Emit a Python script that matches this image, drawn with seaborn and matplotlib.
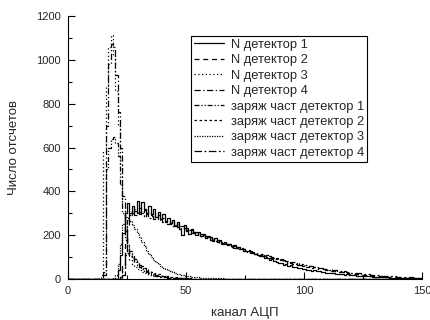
import numpy as np
import pandas as pd
import matplotlib
matplotlib.use("Agg")
import matplotlib.pyplot as plt
from matplotlib.ticker import MultipleLocator
import seaborn as sns

# ADC channels 0..149, one bin per channel
N_CHANNELS = 150

labels = [
    "N детектор 1", "N детектор 2", "N детектор 3", "N детектор 4",
    "заряж част детектор 1", "заряж част детектор 2",
    "заряж част детектор 3", "заряж част детектор 4",
]

# (first non-zero channel, counts from there on)
n_det1 = (21, [40, 110, 210, 300, 345, 300, 335, 310, 355, 305, 350, 320, 300, 335, 295, 320, 285, 305, 275, 295,
               265, 280, 255, 270, 240, 260, 230, 200, 245, 225, 205, 230, 210, 200, 215, 195, 205, 185, 198, 190,
               175, 185, 170, 178, 165, 170, 158, 162, 150, 155, 142, 148, 135, 138, 128, 130, 120, 122, 112, 110,
               104, 106, 96, 98, 88, 90, 82, 80, 74, 72, 66, 68, 60, 62, 55, 56, 50, 52, 46, 45,
               42, 43, 38, 39, 35, 36, 32, 33, 29, 28, 27, 26, 24, 25, 22, 23, 20, 21, 18, 18,
               17, 16, 15, 15, 13, 14, 12, 12, 11, 10, 10, 9, 9, 8, 8, 7, 7, 6, 6, 6,
               5, 5, 5, 4, 4, 4, 3, 3, 3])
n_det2 = (22, [10, 60, 180, 270, 310, 290, 320, 300, 325, 305, 315, 295, 310, 290, 300, 280, 290, 272, 280, 262,
               270, 252, 258, 245, 250, 235, 240, 228, 232, 218, 222, 210, 214, 200, 205, 192, 196, 185, 188, 178,
               180, 170, 172, 162, 165, 155, 158, 148, 150, 142, 145, 135, 138, 128, 132, 122, 125, 116, 120, 110,
               114, 104, 108, 98, 102, 92, 96, 86, 90, 80, 84, 75, 78, 70, 72, 65, 68, 60, 62, 56,
               58, 52, 54, 48, 50, 44, 46, 40, 42, 36, 38, 33, 34, 30, 31, 27, 28, 24, 25, 22,
               22, 20, 20, 18, 18, 16, 16, 14, 14, 13, 12, 11, 11, 10, 9, 9, 8, 8, 7, 7,
               6, 6, 5, 5, 5, 4, 4, 4])
n_det3 = (14, [20, 580, 880, 1060, 1115, 1020, 860, 700, 520, 330, 190, 120, 85, 65, 55, 46, 39, 33, 28, 24,
               20, 17, 15, 13, 11, 10, 9, 8, 7, 6, 5, 5, 4, 4, 3, 3, 2, 2, 2, 1, 1, 1])
n_det4 = (15, [30, 700, 980, 1070, 1060, 930, 760, 600, 380, 220, 160, 130, 110, 90, 75, 62, 52, 44, 37, 31,
               26, 22, 19, 16, 14, 12, 10, 9, 8, 7, 6, 5, 4, 4, 3, 3, 2, 2, 1, 1, 1])
ch_det1 = (15, [20, 500, 600, 640, 650, 620, 560, 430, 300, 200, 150, 120, 98, 80, 66, 54, 45, 37, 31, 26,
                22, 18, 15, 13, 11, 9, 8, 7, 6, 5, 4, 4, 3, 3, 2, 2, 1, 1, 1])
ch_det2 = (22, [10, 60, 108, 112, 105, 95, 85, 75, 66, 58, 50, 44, 38, 33, 29, 25, 22, 19, 16, 14,
                12, 10, 9, 8, 7, 6, 5, 4, 4, 3, 3, 2, 2, 1, 1, 1])
ch_det3 = (19, [4, 20, 70, 160, 250, 285, 280, 265, 245, 230, 210, 190, 170, 150, 130, 115, 100, 88, 78, 68,
                60, 52, 46, 40, 35, 31, 27, 24, 21, 18, 16, 14, 12, 11, 10, 9, 8, 7, 6, 6,
                5, 5, 4, 4, 3, 3, 3, 2, 2, 2, 1, 1, 1])
ch_det4 = (23, [20, 120, 240, 290, 300, 290, 310, 295, 300, 285, 295, 280, 288, 275, 280, 268, 272, 260, 265, 252,
                256, 244, 248, 236, 240, 228, 232, 220, 224, 212, 215, 204, 208, 196, 200, 188, 192, 180, 184, 172,
                176, 165, 168, 158, 162, 150, 154, 143, 146, 136, 140, 130, 133, 124, 127, 118, 121, 112, 115, 106,
                109, 100, 103, 95, 97, 90, 92, 85, 87, 80, 82, 75, 77, 70, 72, 66, 68, 62, 64, 58,
                60, 54, 56, 50, 52, 47, 48, 43, 44, 40, 41, 37, 38, 34, 35, 31, 32, 28, 29, 26,
                27, 24, 24, 22, 22, 20, 20, 18, 18, 16, 16, 14, 14, 13, 13, 12, 11, 10, 10, 9,
                9, 8, 8, 7, 7, 6, 6])

series = [n_det1, n_det2, n_det3, n_det4, ch_det1, ch_det2, ch_det3, ch_det4]

styles = [
    "-", (0, (4, 3)), (0, (1, 2)), (0, (5, 2, 1, 2)),
    (0, (4, 1.5, 1, 1.5, 1, 1.5)), (0, (2, 2)), (0, (1, 1)), (0, (6, 2, 1.5, 2)),
]


def full_counts(start, vals):
    counts = np.zeros(N_CHANNELS)
    counts[start:start + len(vals)] = vals
    return counts


sns.set_theme(style="ticks")
plt.rcParams["font.family"] = ["Liberation Sans", "DejaVu Sans"]

fig = plt.figure(figsize=(4.31, 3.2), dpi=100)
ax = fig.add_axes([0.158, 0.128, 0.821, 0.822])

for (start, vals), label, ls in zip(series, labels, styles):
    df = pd.DataFrame({"channel": np.arange(N_CHANNELS), "counts": full_counts(start, vals)})
    sns.histplot(data=df, x="channel", weights="counts", binwidth=1, binrange=(0, N_CHANNELS),
                 element="step", fill=False, color="black", linewidth=0.9,
                 linestyle=ls, label=label, ax=ax)

ax.set_xlim(0, 150)
ax.set_ylim(0, 1200)
ax.xaxis.set_major_locator(MultipleLocator(50))
ax.xaxis.set_minor_locator(MultipleLocator(25))
ax.yaxis.set_major_locator(MultipleLocator(200))
ax.yaxis.set_minor_locator(MultipleLocator(100))
ax.tick_params(which="both", direction="in", labelsize=8, color="black", width=0.8, pad=5)
ax.tick_params(which="major", length=5)
ax.tick_params(which="minor", length=3)
sns.despine(ax=ax)
for sp in ("left", "bottom"):
    ax.spines[sp].set_color("black")
    ax.spines[sp].set_linewidth(0.8)

ax.set_xlabel("канал АЦП", fontsize=9.5, labelpad=8)
ax.set_ylabel("Число отсчетов", fontsize=9.5, labelpad=12)

leg = ax.legend(loc="upper right", bbox_to_anchor=(0.845, 0.925), fontsize=9.3,
                frameon=True, fancybox=False, edgecolor="black", framealpha=1,
                labelspacing=0.26, handlelength=2.3, handletextpad=0.55, borderpad=0.25,
                borderaxespad=0)
leg.get_frame().set_linewidth(0.8)

fig.savefig("out.png", dpi=100)
